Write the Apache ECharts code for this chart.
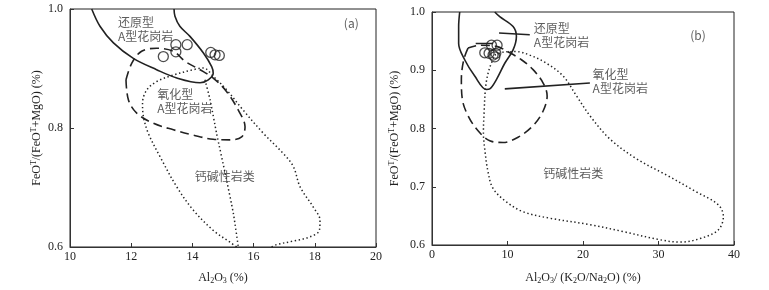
<!DOCTYPE html>
<html><head><meta charset="utf-8">
<script src="https://cdn.jsdelivr.net/npm/echarts@6/dist/echarts.min.js"></script>
<style>html,body{margin:0;padding:0;background:#fff}#c{width:769px;height:290px}</style>
</head><body><div id="c"></div>
<script>
// ---- Panel (a): Al2O3 vs FeOT/(FeOT+MgO)
const aXTicks = [10, 12, 14, 16, 18, 20];
const aYTicks = [0.6, 0.8, 1.0];
const aSamples = [[13.05,0.920],[13.46,0.940],[13.46,0.928],[13.83,0.940],[14.60,0.927],[14.74,0.923],[14.88,0.922]];
const aReduced = [[10.71,1.0],[10.98,0.971],[11.42,0.943],[12.07,0.917],[12.83,0.898],[13.49,0.884],[14.25,0.876],[14.52,0.881],[14.68,0.892],[14.63,0.903],[14.36,0.926],[13.92,0.954],[13.59,0.971],[13.43,0.988],[13.40,1.0]];
const aOxidized = [[11.83,0.881],[12.02,0.909],[12.34,0.929],[12.83,0.934],[13.38,0.929],[13.76,0.912],[14.25,0.898],[14.68,0.884],[15.12,0.861],[15.50,0.830],[15.72,0.802],[15.61,0.785],[15.23,0.780],[14.68,0.781],[14.03,0.788],[13.38,0.797],[12.72,0.808],[12.18,0.825],[11.91,0.847],[11.83,0.881]];
const aCalcAlk = [[16.59,0.600],[16.75,0.604],[17.30,0.610],[17.84,0.617],[18.15,0.628],[18.17,0.645],[17.95,0.667],[17.52,0.701],[17.30,0.735],[16.97,0.757],[16.32,0.791],[15.66,0.830],[15.12,0.864],[14.68,0.887],[14.36,0.901],[14.03,0.898],[13.38,0.889],[12.83,0.878],[12.51,0.864],[12.37,0.842],[12.40,0.819],[12.56,0.791],[12.94,0.752],[13.49,0.701],[14.03,0.662],[14.68,0.628],[15.23,0.608],[15.45,0.600]];
const aDivide = [[14.41,0.881],[14.58,0.847],[14.79,0.791],[15.07,0.724],[15.34,0.656],[15.50,0.600]];
const aLabels = [
  {text:'还原型\nA型花岗岩', pos:[11.57,0.965]},
  {text:'氧化型\nA型花岗岩', pos:[12.85,0.8445]},
  {text:'钙碱性岩类', pos:[14.08,0.718]},
  {text:'(a)', pos:[18.95,0.976]}
];
// ---- Panel (b): Al2O3/(K2O/Na2O) vs FeOT/(FeOT+MgO)
const bXTicks = [0, 10, 20, 30, 40];
const bYTicks = [0.6, 0.7, 0.8, 0.9, 1.0];
const bSamples = [[6.99,0.930],[7.56,0.929],[8.09,0.926],[8.45,0.929],[7.88,0.943],[8.62,0.943],[8.32,0.923]];
const bReduced = [[3.67,1.0],[3.53,0.975],[3.53,0.946],[4.33,0.918],[5.66,0.890],[7.20,0.867],[7.65,0.868],[8.53,0.884],[9.64,0.912],[10.74,0.935],[11.18,0.958],[10.74,0.975],[8.97,0.992],[8.31,1.0]];
const bOxidized = [[4.77,0.938],[4.20,0.918],[3.89,0.884],[4.02,0.850],[4.77,0.822],[6.10,0.796],[7.65,0.779],[9.41,0.776],[11.40,0.785],[13.39,0.805],[14.72,0.830],[15.25,0.856],[14.72,0.878],[13.39,0.901],[11.85,0.918],[10.30,0.930],[8.53,0.941],[6.32,0.943],[4.77,0.938]];
const bCalcAlk = [[8.31,0.926],[9.41,0.931],[11.18,0.932],[12.95,0.926],[15.16,0.912],[17.37,0.890],[19.14,0.856],[20.91,0.822],[23.56,0.782],[27.09,0.748],[31.07,0.720],[35.05,0.691],[37.92,0.669],[38.59,0.649],[37.92,0.626],[35.49,0.611],[32.84,0.605],[30.19,0.609],[25.33,0.623],[20.91,0.635],[15.60,0.646],[12.07,0.657],[9.86,0.674],[8.09,0.697],[7.43,0.725],[6.98,0.765],[6.81,0.793],[6.90,0.827],[7.12,0.873],[7.56,0.901],[8.31,0.926]];
const bTick = [[5.79,0.946],[8.09,0.946]];
const bLeaderReduced = [[8.88,0.964],[12.95,0.961]];
const bLeaderOxidized = [[9.64,0.868],[20.91,0.878]];
const bLabels = [
  {text:'还原型\nA型花岗岩', pos:[13.49,0.960]},
  {text:'氧化型\nA型花岗岩', pos:[21.27,0.881]},
  {text:'钙碱性岩类', pos:[14.72,0.7235]},
  {text:'(b)', pos:[34.2,0.959]}
];

const serif = 'Liberation Serif, Times New Roman, serif';
const cjk = 'Noto Sans CJK SC';
const ink = '#222';
const rich = {
  n:{fontFamily:serif,fontSize:12,color:ink,lineHeight:14,verticalAlign:'middle'},
  s:{fontFamily:serif,fontSize:8,color:ink,lineHeight:8,verticalAlign:'bottom'},
  u:{fontFamily:serif,fontSize:8,color:ink,lineHeight:8,verticalAlign:'top'}
};
const yName = '{n|FeO}{u|T}{n|/(FeO}{u|T}{n|+MgO) (%)}';

function xAxis(gi, ticks, name, gap){
  return {gridIndex:gi, type:'value', min:ticks[0], max:ticks[ticks.length-1], interval:ticks[1]-ticks[0],
    name:name, nameLocation:'middle', nameGap:gap, nameTextStyle:{rich:rich},
    axisLine:{lineStyle:{color:'#333',width:1}}, axisTick:{inside:true,length:4,lineStyle:{color:'#333'}},
    axisLabel:{fontFamily:serif,fontSize:12,color:ink,margin:4}, splitLine:{show:false}};
}
function yAxis(gi, ticks, gap){
  return {gridIndex:gi, type:'value', min:ticks[0], max:ticks[ticks.length-1], interval:Math.round((ticks[1]-ticks[0])*10)/10,
    name:yName, nameLocation:'middle', nameGap:gap, nameTextStyle:{rich:rich},
    axisLine:{lineStyle:{color:'#333',width:1}}, axisTick:{inside:true,length:4,lineStyle:{color:'#333'}},
    axisLabel:{fontFamily:serif,fontSize:12,color:ink,margin:7,formatter:v=>v.toFixed(1)}, splitLine:{show:false}};
}
function curve(i, data, type, smooth){
  const dash = type==='dashed' ? [9,5] : (type==='dotted' ? [1.4,2.6] : 'solid');
  return {type:'line', xAxisIndex:i, yAxisIndex:i, data:data, symbol:'none', smooth:smooth===undefined?0.35:smooth, silent:true,
    lineStyle:{color:ink, width: type==='dotted'?1.5:1.6, type: dash, cap:'butt'}, z:2};
}
function labels(i, arr){
  return {type:'scatter', xAxisIndex:i, yAxisIndex:i, symbolSize:0, silent:true,
    data:arr.map(d=>({value:d.pos, label:{formatter:d.text}})),
    label:{show:true, position:'inside', align:'left', verticalAlign:'middle', fontFamily:cjk+', '+serif, fontSize:12, color:'#333', lineHeight:14}, z:5};
}
function samples(i, data){
  return {type:'scatter', xAxisIndex:i, yAxisIndex:i, data:data, symbol:'circle', symbolSize:10, silent:true,
    itemStyle:{color:'rgba(255,255,255,0)', borderColor:ink, borderWidth:1.3}, z:4};
}

const chart = echarts.init(document.getElementById('c'), null, {renderer:'canvas'});
chart.setOption({
  backgroundColor:'#fff',
  animation:false,
  grid:[
    {left:70, top:9, width:306, height:238, show:true, borderColor:'#222', borderWidth:1},
    {left:432, top:12, width:302, height:235, show:true, borderColor:'#222', borderWidth:1}
  ],
  xAxis:[
    xAxis(0, aXTicks, '{n|Al}{s|2}{n|O}{s|3}{n| (%)}', 24),
    xAxis(1, bXTicks, '{n|Al}{s|2}{n|O}{s|3}{n|/ (K}{s|2}{n|O/Na}{s|2}{n|O) (%)}', 26)
  ],
  yAxis:[ yAxis(0, aYTicks, 26), yAxis(1, bYTicks, 30) ],
  series:[
    curve(0, aReduced, 'solid'),
    curve(0, aOxidized, 'dashed'),
    curve(0, aCalcAlk, 'dotted'),
    curve(0, aDivide, 'dotted', 0.2),
    samples(0, aSamples),
    labels(0, aLabels),
    curve(1, bReduced, 'solid'),
    curve(1, bOxidized, 'dashed'),
    curve(1, bCalcAlk, 'dotted'),
    curve(1, bTick, 'solid', false),
    curve(1, bLeaderReduced, 'solid', false),
    curve(1, bLeaderOxidized, 'solid', false),
    samples(1, bSamples),
    labels(1, bLabels)
  ]
});
</script></body></html>
